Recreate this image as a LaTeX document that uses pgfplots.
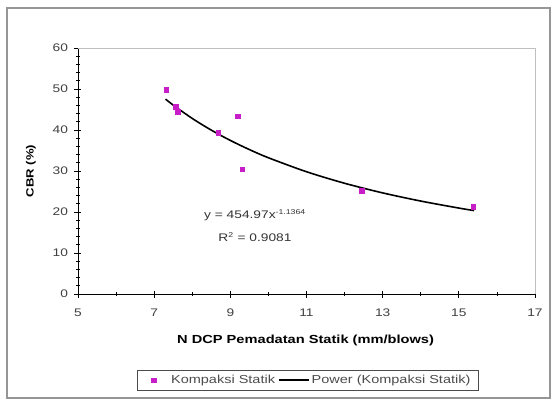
\documentclass[border=0pt]{standalone}
\usepackage{pgfplots}
\pgfplotsset{compat=1.18}
\usepackage{fontspec}
\setmainfont{Liberation Sans}
\newfontfamily\wide[FakeStretch=1.25]{Liberation Sans}
\definecolor{ptmag}{RGB}{200,30,200}
\definecolor{frameg}{RGB}{150,150,150}
\begin{document}
\begin{tikzpicture}[x=1pt,y=1pt]
\useasboundingbox (0,0) rectangle (560,-401);
\fill[white] (0,0) rectangle (560,-401);
% outer chart frame
\draw[frameg, line width=1.2pt] (7,-8) rectangle (550,-398);
\begin{axis}[
  at={(78pt,-294pt)}, anchor=south west,
  scale only axis, width=457pt, height=246pt,
  xmin=5, xmax=17, ymin=0, ymax=60,
  xtick={5,7,...,17}, ytick={0,10,...,60},
  minor x tick num=1, minor y tick num=4,
  tick align=center,
  major tick length=7pt, minor tick length=4pt,
  axis x line*=bottom, axis y line*=left,
  axis line style={black, line width=0.8pt},
  every tick/.style={black, line width=0.7pt},
  ticklabel style={font=\wide\fontsize{11}{13}\selectfont, text=black!75},
  xticklabel style={yshift=-8pt},
  yticklabel style={xshift=-3pt},
  /pgf/number format/assume math mode=true,
  xlabel={N DCP Pemadatan Statik (mm/blows)},
  ylabel={CBR (\%)},
  xlabel style={font=\wide\fontsize{11.7}{13}\selectfont\bfseries,
    at={(axis description cs:0.498,-0.187)}, anchor=center},
  ylabel style={font=\wide\fontsize{10.5}{12}\selectfont\bfseries,
    at={(axis description cs:-0.103,0.5)}, anchor=center},
  legend columns=2,
  legend style={at={(axis description cs:0.503,-0.35)}, anchor=center,
    draw=black!70, line width=0.8pt, font=\wide\fontsize{11.6}{13}\selectfont, text=black!70,
    inner xsep=6pt, inner ysep=3pt,
    /tikz/every even column/.append style={column sep=1pt}},
  clip=false,
]
% light border along top and right of the plot area
\draw[black!25, line width=0.8pt] (axis cs:5,60) -- (axis cs:17,60) -- (axis cs:17,0);
\addplot[only marks, mark=square*, mark size=2.2pt, color=ptmag,
  legend image code/.code={
    \path (-10pt,0pt) (15pt,0pt);
    \draw[only marks, mark=square*, mark size=2.2pt, ptmag] plot coordinates {(0pt,0pt)};}]
  coordinates {
  (7.31,49.8) (7.57,45.7) (7.62,44.5) (8.68,39.3) (9.19,43.4)
  (9.31,30.5) (12.45,25.2) (15.38,21.3)
};
\addlegendentry{Kompaksi Statik}
% power trendline y = 454.97 x^-1.1364, tabulated
\addplot[black, line width=1.6pt, smooth,
  legend image code/.code={\draw[black, line width=1.6pt] (0pt,0pt) -- (30pt,0pt);}]
  coordinates {
  (7.3,47.53) (7.5,46.08) (8,42.82) (8.5,39.97) (9,37.46) (9.5,35.23)
  (10,33.23) (11,29.82) (12,27.01) (13,24.66) (14,22.67) (15,20.96)
  (15.4,20.35)
};
\addlegendentry{Power (Kompaksi Statik)}
\end{axis}
\node[font=\wide\fontsize{11}{12}\selectfont, text=black!80] at (255,-215) {y = 454.97x$^{\mbox{\wide\fontsize{7}{8}\selectfont -1.1364}}$};
\node[font=\wide\fontsize{11}{12}\selectfont, text=black!80] at (255,-237) {R$^{\mbox{\wide\fontsize{7}{8}\selectfont 2}}$ = 0.9081};
\end{tikzpicture}
\end{document}
